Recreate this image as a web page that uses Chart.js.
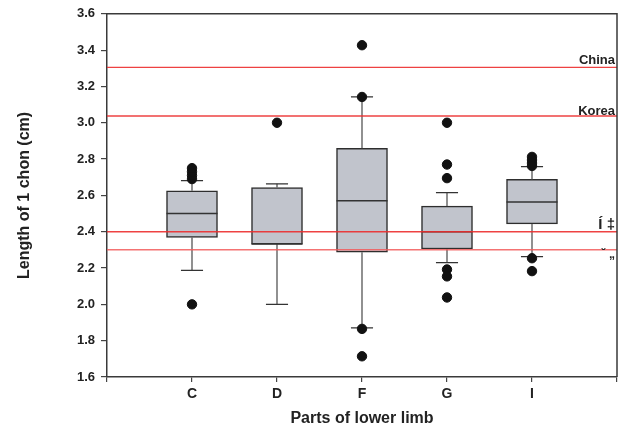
<!DOCTYPE html>
<html>
<head>
<meta charset="utf-8">
<script src="https://cdn.jsdelivr.net/npm/chart.js@4.4.1/dist/chart.umd.min.js"></script>
<style>
html,body{margin:0;padding:0;background:#fff;}
#wrap{width:627px;height:429px;position:relative;}
</style>
</head>
<body>
<div id="wrap"><canvas id="c" width="627" height="429"></canvas></div>
<script>
const categories = ['C', 'D', 'F', 'G', 'I'];
const q1 = [2.368, 2.332, 2.287, 2.305, 2.443];
const medians = [2.500, 2.332, 2.570, 2.400, 2.563];
const q3 = [2.625, 2.643, 2.859, 2.541, 2.688];
const whiskerLow = [2.187, 2.000, 1.871, 2.230, 2.263];
const whiskerHigh = [2.681, 2.664, 3.142, 2.615, 2.759];
const outliersC = [2.00, 2.69, 2.71, 2.73, 2.75];
const outliersD = [3.00];
const outliersF = [3.427, 3.142, 1.865, 1.714];
const outliersG = [3.00, 2.77, 2.695, 2.192, 2.154, 2.038];
const outliersI = [2.812, 2.795, 2.778, 2.762, 2.254, 2.183];
const refValues = [3.305, 3.037, 2.400, 2.301];
const refLabels = ['China', 'Korea', 'Í ‡', '˘ „'];
const yTicks = [1.6, 1.8, 2.0, 2.2, 2.4, 2.6, 2.8, 3.0, 3.2, 3.4, 3.6];

const FONT = "'Liberation Sans', Arial, sans-serif";
const outlierLists = [outliersC, outliersD, outliersF, outliersG, outliersI];

const boxData = categories.map((c, i) => ({x: i + 1, y: [q1[i], q3[i]]}));
const whiskerData = [];
const capData = [];
const medianData = [];
categories.forEach((c, i) => {
  const x = i + 1;
  whiskerData.push({x, y: q3[i]}, {x, y: whiskerHigh[i]}, {x, y: null});
  whiskerData.push({x, y: q1[i]}, {x, y: whiskerLow[i]}, {x, y: null});
  capData.push({x: x - 0.13, y: whiskerHigh[i]}, {x: x + 0.13, y: whiskerHigh[i]}, {x, y: null});
  capData.push({x: x - 0.13, y: whiskerLow[i]}, {x: x + 0.13, y: whiskerLow[i]}, {x, y: null});
  medianData.push({x: x - 0.3, y: medians[i]}, {x: x + 0.3, y: medians[i]}, {x, y: null});
});
const outlierData = [];
outlierLists.forEach((list, i) => list.forEach(v => outlierData.push({x: i + 1, y: v})));

const refDatasets = refValues.map((v, k) => ({
  type: 'line',
  data: [{x: 0, y: v}, {x: 6, y: v}],
  borderColor: k === 3 ? 'rgba(242,90,90,0.85)' : 'rgba(236,45,45,0.9)',
  borderWidth: 1.4,
  pointRadius: 0,
  order: 1
}));

const labelPlugin = {
  id: 'refLabels',
  afterDatasetsDraw(chart) {
    const {ctx, chartArea, scales} = chart;
    const y = scales.y;
    ctx.save();
    ctx.strokeStyle = '#3a3a3a';
    ctx.lineWidth = 1.5;
    ctx.beginPath();
    ctx.moveTo(chartArea.left, chartArea.top);
    ctx.lineTo(chartArea.right, chartArea.top);
    ctx.lineTo(chartArea.right, chartArea.bottom);
    ctx.stroke();
    ctx.fillStyle = '#222';
    ctx.textAlign = 'right';
    const offs = [-3, -1.5, -3, 8];
    const sizes = [13, 13, 15, 12];
    refLabels.forEach((t, k) => {
      ctx.font = 'bold ' + sizes[k] + 'px ' + FONT;
      ctx.textBaseline = 'alphabetic';
      ctx.fillText(t, chartArea.right - 2, y.getPixelForValue(refValues[k]) + offs[k]);
    });
    ctx.restore();
  }
};

new Chart(document.getElementById('c'), {
  type: 'bar',
  data: {
    datasets: [
      {
        type: 'scatter',
        data: outlierData,
        backgroundColor: '#111',
        borderColor: '#111',
        pointRadius: 4.7,
        order: 0
      },
      ...refDatasets,
      {
        type: 'line',
        data: medianData,
        borderColor: '#333',
        borderWidth: 1.5,
        pointRadius: 0,
        spanGaps: false,
        order: 2
      },
      {
        type: 'line',
        data: capData,
        borderColor: '#333',
        borderWidth: 1.3,
        pointRadius: 0,
        spanGaps: false,
        order: 3
      },
      {
        type: 'line',
        data: whiskerData,
        borderColor: '#555',
        borderWidth: 1.3,
        pointRadius: 0,
        spanGaps: false,
        order: 4
      },
      {
        type: 'bar',
        data: boxData,
        backgroundColor: '#c1c4cc',
        borderColor: '#2e2e2e',
        borderWidth: 1.5,
        borderSkipped: false,
        barThickness: 51,
        order: 5
      }
    ]
  },
  options: {
    responsive: false,
    animation: false,
    events: [],
    layout: {padding: {left: 0, top: 10, right: 10, bottom: 0}},
    plugins: {legend: {display: false}, tooltip: {enabled: false}},
    scales: {
      x: {
        type: 'linear',
        min: 0,
        max: 6,
        offset: false,
        afterFit(s) { s.height = 52; },
        afterBuildTicks(s) { s.ticks = [0, 1, 2, 3, 4, 5, 6].map(v => ({value: v})); },
        ticks: {
          autoSkip: false,
          maxRotation: 0,
          padding: 4,
          color: '#222',
          font: {family: FONT, size: 14, weight: 'bold'},
          callback: (v) => categories[v - 1] || ''
        },
        grid: {offset: false, drawOnChartArea: false, drawTicks: true, tickLength: 5, color: '#444', lineWidth: 1.2},
        border: {display: true, color: '#3a3a3a', width: 1.5},
        title: {
          display: true,
          text: 'Parts of lower limb',
          color: '#222',
          font: {family: FONT, size: 16, weight: 'bold'},
          padding: {top: 0, bottom: 1}
        }
      },
      y: {
        type: 'linear',
        min: 1.6,
        max: 3.6,
        afterFit(s) { s.width = 107; },
        afterBuildTicks(s) { s.ticks = yTicks.map(v => ({value: v})); },
        ticks: {
          padding: 6,
          color: '#222',
          font: {family: FONT, size: 13, weight: 'bold'},
          callback: (v) => Number(v).toFixed(1)
        },
        grid: {offset: false, drawOnChartArea: false, drawTicks: true, tickLength: 6, color: '#444', lineWidth: 1.2},
        border: {display: true, color: '#3a3a3a', width: 1.5},
        title: {
          display: true,
          text: 'Length of 1 chon (cm)',
          color: '#222',
          font: {family: FONT, size: 16, weight: 'bold'},
          padding: {top: 15, bottom: 0}
        }
      }
    }
  },
  plugins: [labelPlugin]
});
</script>
</body>
</html>
